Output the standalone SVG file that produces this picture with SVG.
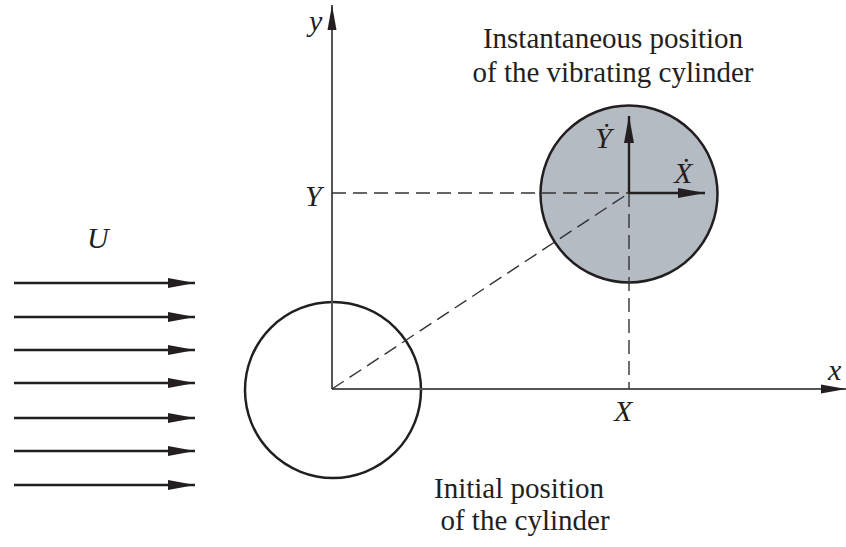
<svg xmlns="http://www.w3.org/2000/svg" width="846" height="547" viewBox="0 0 846 547">
<style>
.t{font-family:"Liberation Serif","DejaVu Serif",serif;font-size:29px;fill:#231f20}
.i{font-family:"Liberation Serif","DejaVu Serif",serif;font-style:italic;font-size:30px;fill:#231f20}
.ax{stroke:#555;stroke-width:2;fill:none}
.fl{stroke:#231f20;stroke-width:2.4;fill:none}
.d{stroke:#333;stroke-width:1.4;stroke-dasharray:14 7;fill:none}
.c{stroke:#231f20;stroke-width:2.5}
</style>
<defs>
<marker id="ah" markerUnits="userSpaceOnUse" markerWidth="28" markerHeight="12" refX="27" refY="6" orient="auto">
<path d="M0,1 L27,6 L0,11 Z" fill="#231f20"/>
</marker>
<marker id="ax" markerUnits="userSpaceOnUse" markerWidth="26" markerHeight="10" refX="25" refY="5" orient="auto">
<path d="M0,0.5 L25,5 L0,9.5 Z" fill="#231f20"/>
</marker>
</defs>
<g id="cyl-initial"><circle class="c" cx="333" cy="390" r="88" fill="none"/></g>
<g id="cyl-current"><circle class="c" cx="629" cy="194" r="88.5" fill="#b5bbc3"/></g>
<g id="connectors">
<line class="ax" x1="332" y1="389" x2="332" y2="5" marker-end="url(#ax)"/>
<line class="ax" x1="332" y1="389" x2="846" y2="389" marker-end="url(#ax)"/>
<line class="d" x1="332" y1="193" x2="629" y2="193"/>
<line class="d" x1="629" y1="193" x2="629" y2="389"/>
<line class="d" x1="332" y1="389" x2="629" y2="193"/>
<line class="fl" x1="629" y1="193" x2="705" y2="193" marker-end="url(#ah)"/>
<line class="fl" x1="629" y1="193" x2="629" y2="116" marker-end="url(#ah)"/>
<g id="flow">
<line class="fl" x1="14" y1="283" x2="195" y2="283" marker-end="url(#ah)"/>
<line class="fl" x1="14" y1="317" x2="195" y2="317" marker-end="url(#ah)"/>
<line class="fl" x1="14" y1="350" x2="195" y2="350" marker-end="url(#ah)"/>
<line class="fl" x1="14" y1="383" x2="195" y2="383" marker-end="url(#ah)"/>
<line class="fl" x1="14" y1="418" x2="195" y2="418" marker-end="url(#ah)"/>
<line class="fl" x1="14" y1="451" x2="195" y2="451" marker-end="url(#ah)"/>
<line class="fl" x1="14" y1="485" x2="195" y2="485" marker-end="url(#ah)"/>
</g>
</g>
<g id="labels">
<text class="i" x="309" y="31">y</text>
<text class="i" x="305" y="206">Y</text>
<text class="i" x="87" y="248">U</text>
<text class="i" x="614" y="421">X</text>
<text class="i" x="828" y="380">x</text>
<text class="i" x="595" y="148">Ẏ</text>
<text class="i" x="674" y="183">Ẋ</text>
<text class="t" x="613" y="48" text-anchor="middle">Instantaneous position</text>
<text class="t" x="613" y="82" text-anchor="middle">of the vibrating cylinder</text>
<text class="t" x="519" y="498" text-anchor="middle">Initial position</text>
<text class="t" x="525" y="530" text-anchor="middle">of the cylinder</text>
</g>
</svg>
